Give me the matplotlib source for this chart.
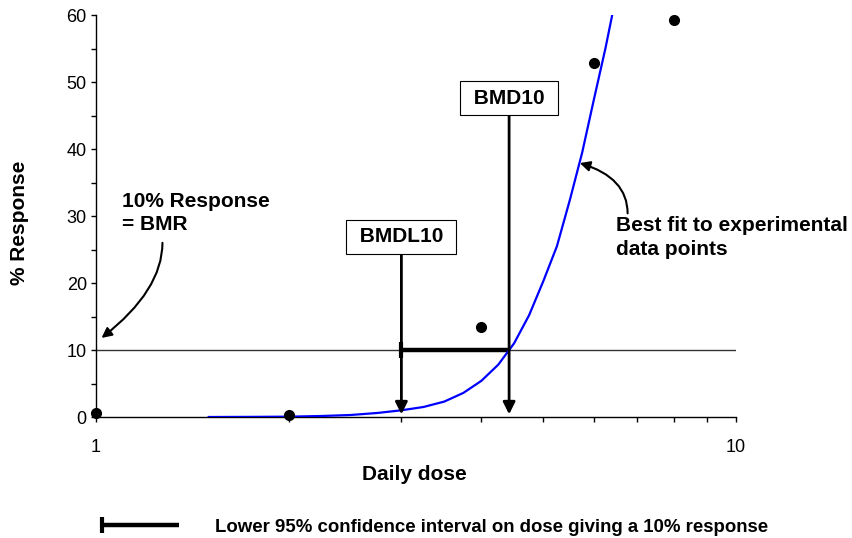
import numpy as np
import matplotlib
matplotlib.use("Agg")
import matplotlib.pyplot as plt
from matplotlib.lines import Line2D
from matplotlib.ticker import MultipleLocator, NullFormatter, FixedLocator

plt.rcParams['font.family'] = ['Liberation Sans', 'DejaVu Sans']

# experimental data points
dose = [1, 2, 4, 6, 8]
response = [0.55, 0.3, 13.4, 52.8, 59.2]

# fitted dose-response curve
fit_dose = [1.5, 1.75, 2.0, 2.25, 2.5, 2.75, 3.0, 3.25, 3.5, 3.75, 4.0, 4.25,
            4.5, 4.75, 5.0, 5.25, 5.5, 5.75, 6.0, 6.25, 6.5]
fit_resp = [0.0, 0.02, 0.05, 0.15, 0.3, 0.6, 1.0, 1.5, 2.3, 3.6, 5.4, 7.8,
            11.0, 15.2, 20.3, 25.5, 32.4, 39.5, 47.5, 55.0, 63.0]

bmr = 10
bmdl10 = 3.0
bmd10 = 4.42

fig = plt.figure(figsize=(8.52, 5.38), dpi=100)
ax = fig.add_axes([0.1127, 0.2249, 0.7512, 0.7472])

ax.axhline(bmr, color='#333333', lw=1, zorder=1)
ax.plot(fit_dose, fit_resp, color='#0000ff', lw=1.6, zorder=3)
ax.plot(dose, response, 'o', color='black', ms=7, clip_on=False, zorder=4)

# confidence interval bar
ax.plot([bmdl10, bmd10], [bmr, bmr], color='black', lw=3.2, solid_capstyle='butt', zorder=2)
ax.plot([bmdl10], [bmr], marker='|', ms=12, mew=3, color='black', zorder=2)

# vertical arrows from the labels
arrow = dict(arrowstyle='-|>', color='black', lw=2, mutation_scale=18, shrinkA=0, shrinkB=0)
ax.annotate('', xy=(bmdl10, 0.4), xytext=(bmdl10, 26.9), arrowprops=arrow, zorder=4)
ax.annotate('', xy=(bmd10, 0.4), xytext=(bmd10, 47.6), arrowprops=arrow, zorder=4)
box = dict(boxstyle='square,pad=0.36', fc='white', ec='black', lw=0.8)
ax.text(bmdl10, 26.9, ' BMDL10 ', ha='center', va='center', fontsize=15,
        fontweight='bold', bbox=box, zorder=6)
ax.text(bmd10, 47.6, ' BMD10 ', ha='center', va='center', fontsize=15,
        fontweight='bold', bbox=box, zorder=6)

# curved callouts
ax.annotate('', xy=(1.02, 11.8), xytext=(1.27, 26.0),
            arrowprops=dict(arrowstyle='-|>', color='black', lw=1.5, mutation_scale=15,
                            shrinkA=0, shrinkB=0,
                            connectionstyle='angle3,angleA=90,angleB=38'))
ax.text(1.098, 33.6, '10% Response\n= BMR', ha='left', va='top', fontsize=15,
        fontweight='bold', linespacing=1.3)
ax.annotate('', xy=(5.7, 37.9), xytext=(6.77, 30.4),
            arrowprops=dict(arrowstyle='-|>', color='black', lw=1.5, mutation_scale=15,
                            shrinkA=0, shrinkB=0,
                            connectionstyle='angle3,angleA=90,angleB=-17'))
ax.text(6.49, 30.0, 'Best fit to experimental\ndata points', ha='left', va='top',
        fontsize=15, fontweight='bold', linespacing=1.3)

ax.set_xscale('log')
ax.set_xlim(1, 10)
ax.set_ylim(0, 60)
ax.xaxis.set_major_locator(FixedLocator([1, 10]))
ax.set_xticklabels(['1', '10'])
ax.xaxis.set_minor_locator(FixedLocator([2, 3, 4, 5, 6, 7, 8, 9]))
ax.xaxis.set_minor_formatter(NullFormatter())
ax.yaxis.set_major_locator(MultipleLocator(10))
ax.yaxis.set_minor_locator(MultipleLocator(5))
ax.tick_params(which='both', direction='out', length=3.6, width=1, labelsize=13)
ax.tick_params(axis='x', which='major', pad=12)
ax.tick_params(axis='y', which='major', pad=3)

for s in ['top', 'right']:
    ax.spines[s].set_visible(False)
for s in ['left', 'bottom']:
    ax.spines[s].set_linewidth(1)

ax.set_xlabel('Daily dose', fontsize=15, fontweight='bold')
ax.xaxis.set_label_coords(0.498, -0.119)
ax.set_ylabel('% Response', fontsize=15, fontweight='bold')
ax.yaxis.set_label_coords(-0.105, 0.484)

# legend for the confidence bar
fig.add_artist(Line2D([100 / 852, 179 / 852], [1 - 525 / 538] * 2, color='black', lw=3.2,
                      solid_capstyle='butt', transform=fig.transFigure))
fig.add_artist(Line2D([101.5 / 852], [1 - 525 / 538], marker='|', ms=12, mew=3, color='black',
                      transform=fig.transFigure))
fig.text(215 / 852, 1 - 532 / 538, 'Lower 95% confidence interval on dose giving a 10% response',
         fontsize=13.4, fontweight='bold', va='baseline')

fig.savefig('out.png', dpi=100)
